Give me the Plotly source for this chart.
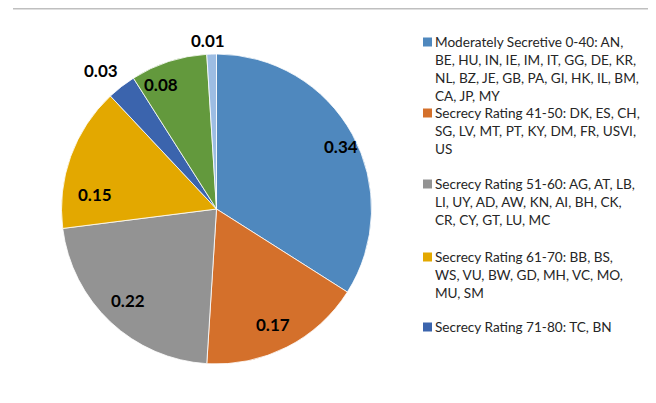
import math
import plotly.graph_objects as go

# ---- data ----
categories = [
    "Moderately Secretive 0-40",
    "Secrecy Rating 41-50",
    "Secrecy Rating 51-60",
    "Secrecy Rating 61-70",
    "Secrecy Rating 71-80",
    "Secrecy Rating 81-90",
    "Secrecy Rating 91-100",
]
shares = [0.34, 0.17, 0.22, 0.15, 0.03, 0.08, 0.01]
colors = ["#4F88BE", "#D4702B", "#939393", "#E3A800", "#3B64AD", "#63993D", "#9DBDE3"]

# legend texts as drawn (only the first five entries are visible in the reference)
legend_lines = [
    ["Moderately Secretive 0-40: AN,", "BE, HU, IN, IE, IM, IT, GG, DE, KR,",
     "NL, BZ, JE, GB, PA, GI, HK, IL, BM,", "CA, JP, MY"],
    ["Secrecy Rating 41-50: DK, ES, CH,", "SG, LV, MT, PT, KY, DM, FR, USVI,", "US"],
    ["Secrecy Rating 51-60: AG, AT, LB,", "LI, UY, AD, AW, KN, AI, BH, CK,", "CR, CY, GT, LU, MC"],
    ["Secrecy Rating 61-70: BB, BS,", "WS, VU, BW, GD, MH, VC, MO,", "MU, SM"],
    ["Secrecy Rating 71-80: TC, BN"],
]

# ---- style / layout ----
W, H = 656, 403
FONT = "Lato"
CX, CY, R = 208.5, 201.0, 155.0          # pie centre / radius in px (top-down)
label_rfrac = [0.90, 0.83, 0.82, 0.79, 1.16, 0.88, 1.09]   # label distance (fraction of R)
label_dang = [2, 1, 1, -13, -2, -6, -1]                    # label angle nudge (deg)


def px(x):
    return x / W


def py(y):
    return (H - y) / H


fig = go.Figure()
fig.add_trace(go.Pie(
    labels=categories,
    values=shares,
    sort=False,
    direction="clockwise",
    rotation=0,
    marker=dict(colors=colors, line=dict(color="white", width=0.8)),
    textinfo="none",
    showlegend=False,
    hoverinfo="label+value",
    domain=dict(x=[px(CX - R), px(CX + R)], y=[py(CY + R), py(CY - R)]),
))

annotations = []
shapes = []

# data labels, positioned from the cumulative shares (clockwise from 12 o'clock)
total = sum(shares)
cum = 0.0
for i, v in enumerate(shares):
    mid = (cum + v / 2) / total * 360 + label_dang[i]
    cum += v
    r = R * label_rfrac[i]
    lx = CX + r * math.sin(math.radians(mid))
    ly = CY - r * math.cos(math.radians(mid))
    annotations.append(dict(text=f"<b>{v:.2f}</b>", xref="paper", yref="paper",
                            x=px(lx), y=py(ly), xanchor="center", yanchor="middle",
                            showarrow=False,
                            font=dict(family=FONT, size=17, color="#000000")))

# manual legend
item_top = [34, 105, 176, 249, 319]
line_step = 18
for i, lines in enumerate(legend_lines):
    y0 = item_top[i]
    shapes.append(dict(type="rect", xref="paper", yref="paper",
                       x0=px(415), x1=px(424), y0=py(y0 + 4.5), y1=py(y0 - 4.5),
                       fillcolor=colors[i], line=dict(width=0)))
    for j, ln in enumerate(lines):
        yy = y0 + j * line_step
        annotations.append(dict(text=ln, xref="paper", yref="paper",
                                x=px(425), y=py(yy),
                                xanchor="left", yanchor="middle", showarrow=False,
                                font=dict(family=FONT, size=13.6, color="#262626")))

# frame lines
shapes.append(dict(type="line", xref="paper", yref="paper",
                   x0=px(5), x1=1, y0=py(0.6), y1=py(0.6),
                   line=dict(color="#BFBFBF", width=2)))
shapes.append(dict(type="line", xref="paper", yref="paper",
                   x0=px(646.5), x1=px(646.5), y0=0, y1=py(0),
                   line=dict(color="#D9D9D9", width=1.5)))

fig.update_layout(
    width=W, height=H,
    margin=dict(l=0, r=0, t=0, b=0),
    paper_bgcolor="white", plot_bgcolor="white",
    shapes=shapes, annotations=annotations,
    font=dict(family=FONT),
)

fig.write_html("out.html")
